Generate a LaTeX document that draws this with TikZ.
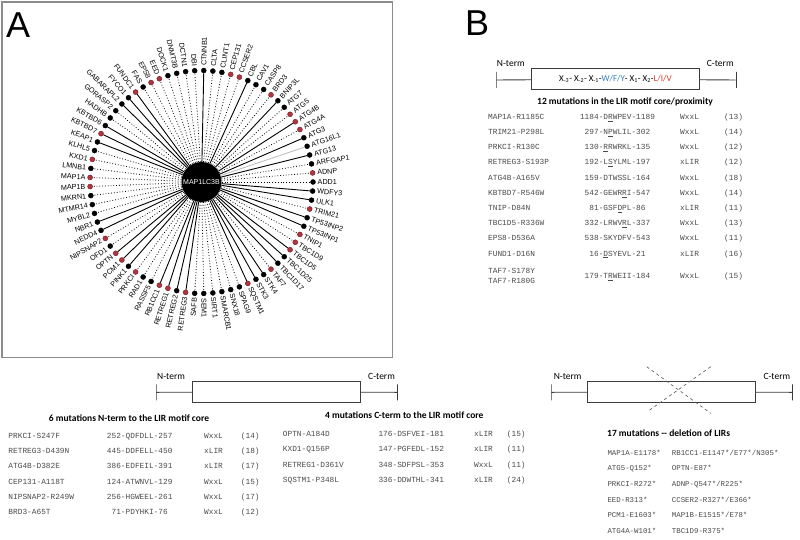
\documentclass[tikz,border=0pt]{standalone}
\usepackage{fontspec}
\setmainfont{Liberation Sans}
\setmonofont{Liberation Mono}
\newfontfamily\calib{Carlito}
\definecolor{ringred}{HTML}{B3343F}
\definecolor{ringedge}{HTML}{6E1C24}
\definecolor{wfyblue}{HTML}{3A7DC0}
\definecolor{livred}{HTML}{D33A2C}
\definecolor{seqgray}{HTML}{4A4A4A}
\definecolor{framegray}{HTML}{8C8C8C}
\definecolor{stemgray}{HTML}{3C3C3C}

\begin{document}
\begin{tikzpicture}[
    x=1pt, y=-1pt,
    frame/.style={draw=framegray, line width=1.8pt},
    panel/.style={font=\fontsize{36}{36}\selectfont, inner sep=0pt},
    hub/.style={circle, fill=black, minimum size=40pt, inner sep=0pt,
                text=white, font=\fontsize{7}{8}\selectfont},
    kdot/.style={circle, draw=black, fill=black, minimum size=5pt,
                 inner sep=0pt, line width=0.4pt},
    rdot/.style={kdot, draw=ringedge, fill=ringred},
    sl/.style={line width=0.9pt},
    dl/.style={line width=0.8pt, dotted},
    gl/.style={line width=0.9pt, black!25},
    glbl/.style={font=\fontsize{7.2}{8}\selectfont, inner sep=0pt},
    termlbl/.style={font=\calib\fontsize{9.5}{10}\selectfont, inner sep=0pt},
    ttl/.style={font=\calib\bfseries\fontsize{9.5}{10}\selectfont, inner sep=0pt},
    seq/.style={font=\ttfamily\fontsize{7.8}{9}\selectfont, text=seqgray, inner sep=0pt},
    delseq/.style={seq, font=\ttfamily\fontsize{7.4}{9}\selectfont},
    seqbox/.style={draw=stemgray, line width=0.9pt, minimum width=168pt,
                   minimum height=21pt, inner sep=0pt},
    capbar/.style={draw=stemgray, line width=0.9pt, minimum width=0pt,
                   minimum height=16pt, inner sep=0pt},
    stem/.style={draw=stemgray, line width=0.9pt},
    cross/.style={draw=black!60, line width=0.7pt, dashed}
  ]
  \useasboundingbox (0,0) rectangle (800,540);

  % Panel A: LC3B interactors
  \draw[frame] (2,2) rectangle (392.5,357.5);
  \node[panel, anchor=base west] (labA) at (6,37.3) {A};
  \node[hub] (lc3b) at (201.5,182) {MAP1LC3B};
  \foreach \g/\m/\l [count=\i from 0] in {
      ADD1/kdot/dl, ADNP/rdot/dl, ARFGAP1/kdot/dl, ATG13/kdot/sl,
      ATG16L1/kdot/gl, ATG3/kdot/sl, ATG4A/rdot/dl, ATG4B/rdot/sl,
      ATG5/rdot/dl, ATG7/kdot/dl, BNIP3L/kdot/sl, BRD3/rdot/dl,
      CASP8/kdot/dl, CAV1/kdot/dl, CBL/kdot/sl, CCSER2/rdot/dl,
      CEP131/rdot/dl, CLINT1/kdot/dl, CLTA/kdot/dl, CTNNB1/kdot/sl,
      DBI/kdot/dl, DCTN1/kdot/dl, DNMT3B/kdot/dl, DOCK1/kdot/dl,
      EED/rdot/dl, EPS8/rdot/dl, FAS/kdot/dl, FUNDC1/rdot/sl,
      FYCO1/kdot/sl, GABARAPL2/kdot/sl, GORASP2/kdot/dl, HADHB/kdot/dl,
      KBTBD6/kdot/sl, KBTBD7/rdot/sl, KEAP1/kdot/sl, KLHL5/kdot/dl,
      KXD1/rdot/dl, LMNB1/kdot/dl, MAP1A/rdot/dl, MAP1B/rdot/dl,
      MKRN1/kdot/dl, MTMR14/kdot/dl, MYBL2/kdot/dl, NBR1/kdot/sl,
      NEDD4/kdot/sl, NIPSNAP2/rdot/dl, OFD1/kdot/dl, OPTN/rdot/sl,
      PCM1/rdot/sl, PINK1/kdot/sl, PRKCI/rdot/dl, RAD1/kdot/dl,
      RASSF5/kdot/dl, RB1CC1/rdot/sl, RETREG1/rdot/sl, RETREG2/kdot/sl,
      RETREG3/rdot/sl, SAFB/kdot/dl, SEM1/kdot/dl, SIRT1/kdot/dl,
      SMARCB1/kdot/dl, SNX18/kdot/dl, SPAG9/kdot/dl, SQSTM1/rdot/sl,
      STK3/kdot/sl, STK4/kdot/sl, TAF7/rdot/dl, TBC1D17/kdot/sl,
      TBC1D25/kdot/sl, TBC1D5/rdot/sl, TBC1D9/rdot/dl, TNIP1/rdot/dl,
      TP53INP1/kdot/sl, TP53INP2/kdot/sl, TRIM21/rdot/dl, ULK1/kdot/sl,
      WDFY3/kdot/sl} {
    \pgfmathsetmacro\a{\i*(360/77)}
    \pgfmathtruncatemacro\lft{and(\a>90,\a<270)}
    \node[\m] (g\i) at ({201.5+111.5*cos(\a)},{182-111.5*sin(\a)}) {};
    \draw[\l] (lc3b) -- (g\i);
    \ifnum\lft=1
      \node[glbl, anchor=east, rotate=\a-180] (l\i)
        at ({201.5+116*cos(\a)},{182-116*sin(\a)}) {\g};
    \else
      \node[glbl, anchor=west, rotate=\a] (l\i)
        at ({201.5+116*cos(\a)},{182-116*sin(\a)}) {\g};
    \fi
  }

  % Panel B: motif core / proximity
  \node[panel, anchor=base west] (labB) at (465,36) {B};
  \node[capbar] (nbB) at (496,80) {};
  \node[capbar] (cbB) at (736,80) {};
  \node[seqbox] (motB) at (615.5,79.2) {\calib\fontsize{9}{10}\selectfont
    X\textsubscript{-3}- X\textsubscript{-2}- X\textsubscript{-1}-\textcolor{wfyblue}{W/F/Y}-
    X\textsubscript{1}- X\textsubscript{2}-\textcolor{livred}{L/I/V}};
  \draw[stem] (nbB) -- (motB);
  \draw[stem] (motB) -- (cbB);
  \node[termlbl, anchor=base west] (ntB) at (496.7,67) {N-term};
  \node[termlbl, anchor=base west] (ctB) at (706.7,67) {C-term};
  \node[ttl] (tB) at (625,101.7) {12 mutations in the LIR motif core/proximity};
  \foreach \n/\p/\t/\c [count=\r from 0] in {
      MAP1A-R1185C/1184-D\underline{R}WPEV-1189/WxxL/13,
      TRIM21-P298L/297-N\underline{P}WLIL-302/WxxL/14,
      PRKCI-R130C/130-\underline{R}RWRKL-135/WxxL/12,
      RETREG3-S193P/192-L\underline{S}YLML-197/xLIR/12,
      ATG4B-A165V/159-DTWSSL-164/WxxL/18,
      KBTBD7-R546W/542-GEWR\underline{R}I-547/WxxL/14,
      TNIP-D84N/81-GSF\underline{D}PL-86/xLIR/11,
      TBC1D5-R336W/332-LRWV\underline{R}L-337/WxxL/13,
      EPS8-D536A/538-SKYDFV-543/WxxL/11,
      FUND1-D16N/16-\underline{D}SYEVL-21/xLIR/16} {
    \node[seq, anchor=mid west] (bn\r) at (488,116.7+15.2*\r) {\n};
    \node[seq, anchor=mid] (bp\r) at (617.5,116.7+15.2*\r) {\p};
    \node[seq, anchor=mid west] (bt\r) at (680,116.7+15.2*\r) {\t};
    \node[seq, anchor=mid west] (bc\r) at (724,116.7+15.2*\r) {(\c)};
  }
  \node[seq, anchor=mid west] (bn10) at (488,271) {TAF7-S178Y};
  \node[seq, anchor=mid west] (bn11) at (488,281) {TAF7-R180G};
  \node[seq, anchor=mid] (bp10) at (617.5,276) {179-T\underline{R}WEII-184};
  \node[seq, anchor=mid west] (bt10) at (680,276) {WxxL};
  \node[seq, anchor=mid west] (bc10) at (724,276) {(15)};

  % N-term to the core
  \node[capbar] (nbN) at (156,392.3) {};
  \node[capbar] (cbN) at (397.7,392.3) {};
  \node[seqbox] (motN) at (276.5,392.2) {};
  \draw[stem] (nbN) -- (motN);
  \draw[stem] (motN) -- (cbN);
  \node[termlbl, anchor=base west] (ntN) at (157,379.5) {N-term};
  \node[termlbl, anchor=base west] (ctN) at (368,379.5) {C-term};
  \node[ttl] (tN) at (129,417.7) {6 mutations N-term to the LIR motif core};
  \foreach \n/\p/\t/\c [count=\r from 0] in {
      PRKCI-S247F/252-QDFDLL-257/WxxL/14,
      RETREG3-D439N/445-DDFELL-450/xLIR/18,
      ATG4B-D382E/386-EDFEIL-391/xLIR/17,
      CEP131-A118T/124-ATWNVL-129/WxxL/15,
      NIPSNAP2-R249W/256-HGWEEL-261/WxxL/17,
      BRD3-A65T/71-PDYHKI-76/WxxL/12} {
    \node[seq, anchor=mid west] (nn\r) at (8.3,435.7+15.3*\r) {\n};
    \node[seq, anchor=mid] (np\r) at (139.7,435.7+15.3*\r) {\p};
    \node[seq, anchor=mid west] (nt\r) at (204,435.7+15.3*\r) {\t};
    \node[seq, anchor=mid west] (nc\r) at (240.7,435.7+15.3*\r) {(\c)};
  }

  % C-term to the core
  \node[ttl] (tC) at (404.3,415.5) {4 mutations C-term to the LIR motif core};
  \foreach \n/\p/\t/\c [count=\r from 0] in {
      OPTN-A184D/176-DSFVEI-181/xLIR/15,
      KXD1-Q156P/147-PGFEDL-152/xLIR/11,
      RETREG1-D361V/348-SDFPSL-353/WxxL/11,
      SQSTM1-P348L/336-DDWTHL-341/xLIR/24} {
    \node[seq, anchor=mid west] (cn\r) at (282.7,434+15.3*\r) {\n};
    \node[seq, anchor=mid] (cp\r) at (411.3,434+15.3*\r) {\p};
    \node[seq, anchor=mid west] (ct\r) at (474,434+15.3*\r) {\t};
    \node[seq, anchor=mid west] (cc\r) at (506.7,434+15.3*\r) {(\c)};
  }

  % Deletion of LIRs
  \node[capbar] (nbD) at (551,392.3) {};
  \node[capbar] (cbD) at (792.3,392.3) {};
  \node[seqbox] (motD) at (671.3,392.2) {};
  \draw[stem] (nbD) -- (motD);
  \draw[stem] (motD) -- (cbD);
  \node[termlbl, anchor=base west] (ntD) at (553.6,379.5) {N-term};
  \node[termlbl, anchor=base west] (ctD) at (763.3,379.5) {C-term};
  \coordinate (xa) at (646.7,366.7);
  \coordinate (xb) at (710.7,413.3);
  \coordinate (xc) at (710.7,366.7);
  \coordinate (xd) at (647.3,411.7);
  \draw[cross] (xa) -- (xb);
  \draw[cross] (xc) -- (xd);
  \node[ttl, anchor=mid west] (tD) at (607,433.5) {17 mutations -- deletion of LIRs};
  \foreach \u/\v [count=\r from 0] in {
      MAP1A-E1178*/RB1CC1-E1147*{/}E77*{/}N305*,
      ATG5-Q152*/OPTN-E87*,
      PRKCI-R272*/ADNP-Q547*{/}R225*,
      EED-R313*/CCSER2-R327*{/}E366*,
      PCM1-E1603*/MAP1B-E1515*{/}E78*,
      ATG4A-W101*/TBC1D9-R375*} {
    \node[delseq, anchor=mid west] (da\r) at (607.3,452.7+15.6*\r) {\u};
    \node[delseq, anchor=mid west] (db\r) at (671.7,452.7+15.6*\r) {\v};
  }
\end{tikzpicture}
\end{document}
